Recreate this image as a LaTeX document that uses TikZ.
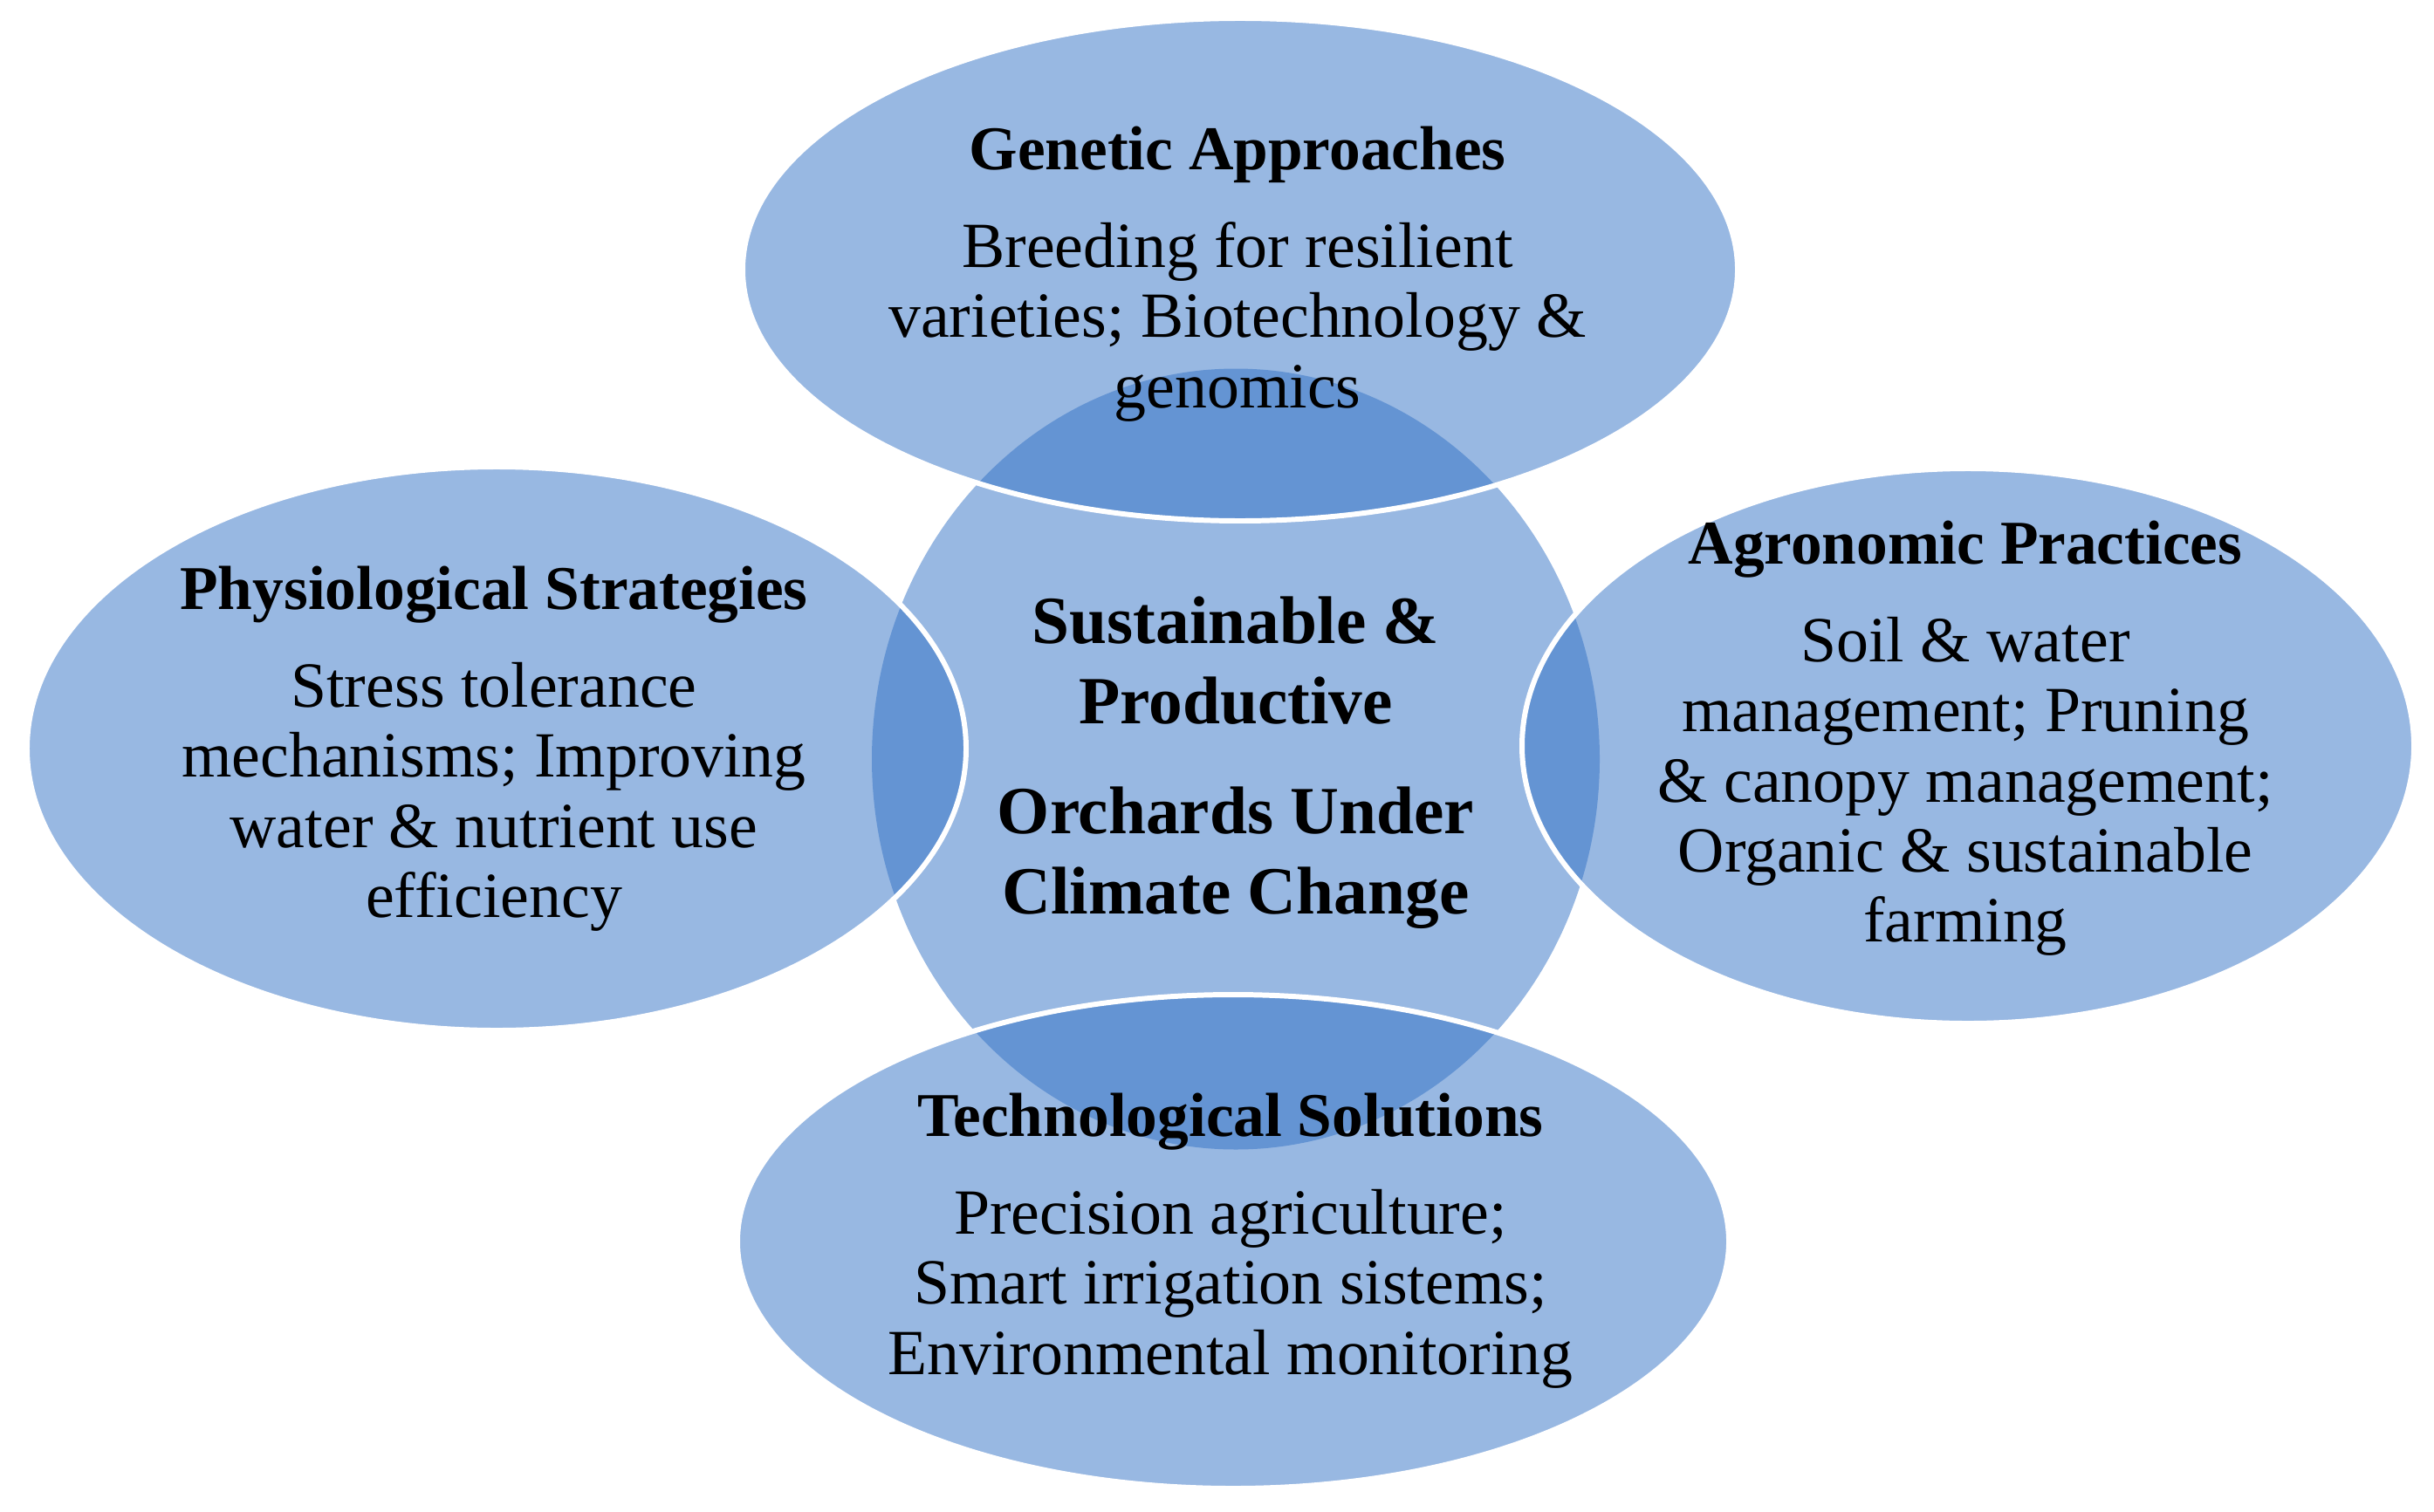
\documentclass[tikz,border=0pt]{standalone}
\usepackage{fontspec}
\setmainfont{Liberation Serif}
\usetikzlibrary{shapes.geometric}
\definecolor{vennblue}{RGB}{49,113,197}
\newcommand{\petaltitle}[1]{{\bfseries\fontsize{20.3}{22.8}\selectfont #1}}
\begin{document}
\begin{tikzpicture}[
		hub/.style={ellipse, inner sep=0pt, fill=vennblue, fill opacity=.5},
		petal/.style={ellipse, inner sep=0pt, fill=vennblue, fill opacity=.5, draw=white, draw opacity=1, line width=1.7pt},
		txt/.style={anchor=north, align=center, inner sep=0pt, font=\fontsize{21}{22.8}\selectfont},
		hubtxt/.style={anchor=north, align=center, inner sep=0pt, font=\bfseries\fontsize{22}{26.2}\selectfont}]
		\useasboundingbox (0,0) rectangle (27.89,-17.32);
		%=========== centre first, then the four petals ===========================
		\node[hub, minimum width=8.34cm, minimum height=8.95cm] (hub) at (14.16,-8.70) {};
		\node[petal, minimum width=11.40cm, minimum height=5.76cm] (gen) at (14.21,-3.09) {};
		\node[petal, minimum width=10.76cm, minimum height=6.46cm] (phy) at (5.69,-8.58) {};
		\node[petal, minimum width=10.22cm, minimum height=6.36cm] (agr) at (22.55,-8.55) {};
		\node[petal, minimum width=11.36cm, minimum height=5.66cm] (tec) at (14.13,-14.23) {};
		%=========== texts ===========================
		\node[hubtxt] (hubtext) at (14.16,-6.725) {\strut Sustainable \&\\ Productive\\[0.34cm] Orchards Under\\ Climate Change};
		\node[txt] (gentext) at (14.18,-1.379) {\strut\petaltitle{Genetic Approaches}\\[0.32cm] Breeding for resilient\\ varieties; Biotechnology \&\\ genomics};
		\node[txt] (phytext) at (5.66,-6.419) {\strut\petaltitle{Physiological Strategies}\\[0.32cm] Stress tolerance\\ mechanisms; Improving\\ water \& nutrient use\\ efficiency};
		\node[txt] (agrtext) at (22.52,-5.899) {\strut\petaltitle{Agronomic Practices}\\[0.32cm] Soil \& water\\ management; Pruning\\ \& canopy management;\\ Organic \& sustainable\\ farming};
		\node[txt] (tectext) at (14.10,-12.459) {\strut\petaltitle{Technological Solutions}\\[0.32cm] Precision agriculture;\\ Smart irrigation sistems;\\ Environmental monitoring};
	\end{tikzpicture}
\end{document}
